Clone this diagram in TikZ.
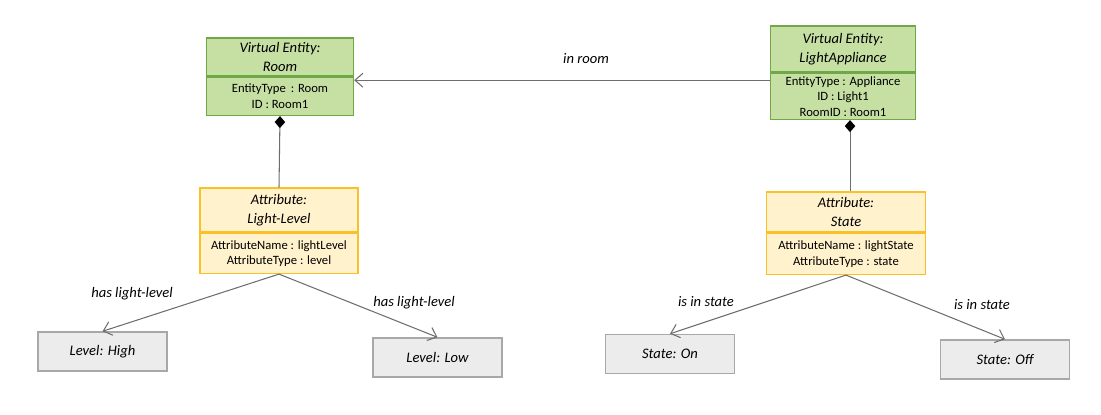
\documentclass[tikz,border=0pt]{standalone}
\usepackage{fontspec}
\setmainfont{Carlito}
\usetikzlibrary{positioning,arrows.meta}

\definecolor{entfill}{RGB}{198,224,164}
\definecolor{entline}{RGB}{112,168,72}
\definecolor{attfill}{RGB}{255,242,204}
\definecolor{attline}{RGB}{250,192,40}
\definecolor{valfill}{RGB}{236,236,236}
\definecolor{valline}{RGB}{168,168,168}
\definecolor{conline}{RGB}{110,110,110}

\tikzset{
	headfont/.style={font=\fontsize{8.3}{10.5}\selectfont\itshape},
	bodyfont/.style={font=\fontsize{7.2}{8.8}\selectfont},
	enthead/.style={draw=entline, fill=entfill, line width=0.8pt, align=center, headfont, inner sep=0pt},
	entbody/.style={draw=entline, fill=entfill, line width=0.8pt, align=center, bodyfont, inner sep=0pt},
	atthead/.style={draw=attline, fill=attfill, line width=0.8pt, align=center, headfont, inner sep=0pt},
	attbody/.style={draw=attline, fill=attfill, line width=0.8pt, align=center, bodyfont, inner sep=0pt},
	valbox/.style={draw=valline, fill=valfill, line width=0.8pt, headfont, minimum width=2.58cm, minimum height=0.78cm},
	relarrow/.style={draw=conline, line width=0.6pt, -{Straight Barb[length=1.6mm,width=2.8mm]}},
	partof/.style={draw=conline, line width=0.6pt, {Diamond[length=2.4mm,width=2.1mm,fill=black,color=black]}-},
	rellabel/.style={headfont}
}

\begin{document}
\begin{tikzpicture}[x=0.02cm, y=-0.02cm]
\useasboundingbox (0,0) rectangle (1101,415);

% entities
\node[enthead, minimum width=2.94cm, minimum height=0.76cm] (roomhead) at (280,57) {Virtual Entity:\\Room};
\node[entbody, minimum width=2.94cm, minimum height=0.76cm, below=0pt of roomhead] (roombody) {EntityType\,\ : Room\\ID : Room1};

\node[enthead, minimum width=2.9cm, minimum height=0.92cm] (lighthead) at (843,49) {Virtual Entity:\\LightAppliance};
\node[entbody, minimum width=2.9cm, minimum height=0.92cm, below=0pt of lighthead] (lightbody) {EntityType : Appliance\\ID : Light1\\RoomID : Room1};

% attributes
\node[atthead, minimum width=3.16cm, minimum height=0.88cm] (levelhead) at (279,210) {Attribute:\\Light-Level};
\node[attbody, minimum width=3.16cm, minimum height=0.8cm, below=0pt of levelhead] (levelbody) {AttributeName : lightLevel\\AttributeType : level};

\node[atthead, minimum width=3.18cm, minimum height=0.8cm] (statehead) at (846,212) {Attribute:\\State};
\node[attbody, minimum width=3.18cm, minimum height=0.82cm, below=0pt of statehead] (statebody) {AttributeName : lightState\\AttributeType : state};

% values
\node[valbox] (high) at (102.5,351.5) {Level: High};
\node[valbox] (low) at (437.5,357.5) {Level: Low};
\node[valbox] (on) at (670,354) {State: On};
\node[valbox] (off) at (1005,359.5) {State: Off};

% connectors
\draw[relarrow] ([yshift=-2pt]roomhead.south east -| lighthead.west) -- ([yshift=-2pt]roomhead.south east);
\node[rellabel] (inroom) at (586,59) {in room};

\draw[partof] (roombody.south) -- (levelhead.north);
\draw[partof] ([xshift=4pt]lightbody.south) -- ([xshift=4pt]lightbody.south |- statehead.north);

\draw[relarrow] (levelbody.south) -- (high.north);
\draw[relarrow] (levelbody.south) -- (low.north);
\draw[relarrow] (statebody.south) -- (on.north);
\draw[relarrow] (statebody.south) -- (off.north);

\node[rellabel] (hashigh) at (132,294) {has light-level};
\node[rellabel] (haslow) at (414,303) {has light-level};
\node[rellabel] (inon) at (706,302) {is in state};
\node[rellabel] (inoff) at (982,305) {is in state};
\end{tikzpicture}
\end{document}
